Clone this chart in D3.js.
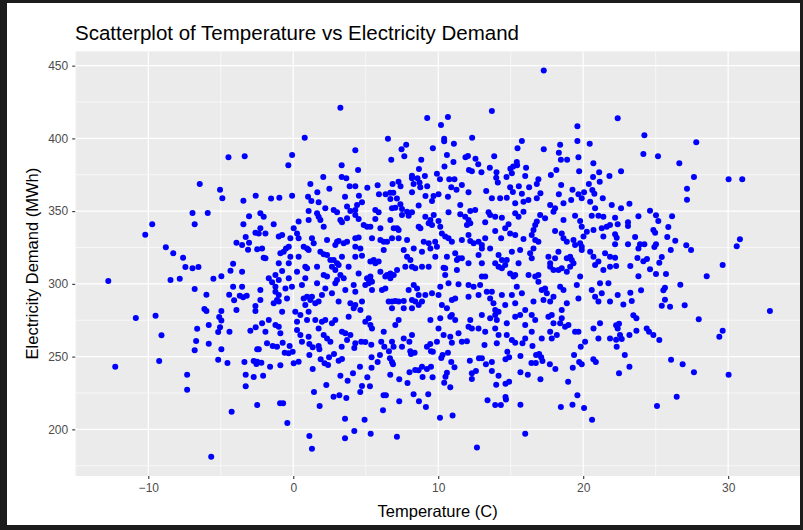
<!DOCTYPE html>
<html><head><meta charset="utf-8">
<script src="https://cdn.jsdelivr.net/npm/d3@7"></script>
<style>html,body{margin:0;padding:0;background:#1c1c1c;}svg{display:block;}</style>
</head><body>
<svg id="chart" width="803" height="530"></svg>
<script>
// Temperature (C), Electricity Demand (MWh) pairs
const coldSide = [[-4.47,387],[-3.35,387.7],[-6.45,368.7],[-5.05,364.7],[-4.89,358.8],[-3.44,357.2],[-2.59,360.6],
[-6.95,348.7],[-5.90,348.7],[-9.73,341],[-6.80,341],[-3.05,346.5],[-3.44,341],[-10.21,333.8],[-2.61,335.2],[-3.28,332.2],[-3.92,328.3],[-3.53,326.7],[-3.05,328.3],[-3.12,323.5],[-2.49,323.8],[-8.79,325.1],[-8.28,321],[-7.60,318],[-7.44,311.6],[-6.95,310.7],[-6.54,311.6],[-4.15,313.9],[-4.33,309],[-3.53,308.4],[-4.96,305.2],[-5.51,303.5],[-7.83,303.5],[-8.47,302.6],[-12.76,302],[-4.15,298],[-3.53,298],[-6.80,296.5],[-5.99,292.5],[-4.42,292.5],[-3.69,291.9],[-3.21,291.9],[-4.08,288.7],[-3.46,290.8],[-6.13,282.7],[-5.99,281.3],[-4.96,281.3],[-3.92,282],[-2.61,281.3],[-2.61,284.8],[-10.86,276.5],[-9.50,278.1],[-5.11,277.2],[-4.96,274.9],[-5.83,271.7],[-6.63,269.2],[-5.05,270.1],[-5.18,266.9],[-4.40,267.1],[-2.96,267.8],[-2.59,270.1],[-9.09,264.6],[-6.70,260.7],[-5.83,258.9],
[-6.80,254.3],[-4.96,255],[-2.49,255],[-12.28,243],[-9.25,247],[-5.18,247.9],[-4.54,245.6],[-3.37,246.3],[-2.73,247],[-2.54,244.9],[-7.32,237.5],[-3.28,237.5],[-2.73,236],[-7.32,227.2],[-3.28,229.6],[-2.49,216.7],[-4.25,212.1],[-5.66,181.2]];

const hotSide = [[22.38,413.8],[24.22,402.1],[27.80,397.3],[24.15,389.3],[25.16,387.7],[26.63,382.9],[22.61,377.4],[27.64,373.5],[30.03,371.9],[30.97,371.9],[27.16,365.4],[27.16,357.9],
[23.19,355.1],[22.61,352],[24.61,350.3],[25.02,347.1],[26.13,346.5],[23.81,346.5],[25.18,343.2],[22.20,345.5],[22.38,341],[23.09,342.3],[23.09,339.8],[25.87,339.1],[24.84,337],[24.96,335.2],[22.20,334.1],[22.31,331.7],[23.58,332.2],[25.80,332.2],[26.35,329.7],[30.81,330.6],[30.59,325.8],[22.20,327.2],[23.09,327.2],[23.92,327.2],[24.22,327.2],[25.02,327.2],[24.91,325.3],[23.81,324.4],[27.11,326.5],[27.44,323.3],[26.04,323.3],[25.42,318.5],[23.74,317.8],[24.40,317.1],[24.15,315.5],[25.25,314.6],[22.20,318],[22.27,312.3],[23.25,312.3],[29.62,313],[24.61,310],[25.02,306.8],[25.71,306.8],[23.81,305.2],[28.52,305.2],[26.70,299.4],[25.64,297.4],[25.53,295.6],[23.99,295.6],[23.25,293.9],[22.38,292.3],[25.64,289.1],[23.35,288.2],[22.77,285.9],[25.42,285],[25.99,284.3],[27.00,285.3],[32.88,281.3],[23.46,278.4],[23.67,276.3],[27.97,275.6],[22.47,272.6],[22.27,271.5],[22.38,269.4],[24.38,269.4],[24.54,267.1],[24.84,264.8],[23.67,267.8],[23.19,264.8],[22.54,264.8],[22.66,262.1],[22.27,261.6],[25.25,261.4],[29.62,267.8],[29.39,263.7],
[22.31,256.8],[22.87,251.1],[23.19,243],[22.47,238.5],[26.06,247.9],[26.86,244.7],[27.64,239.2],[30.03,237.5],[26.45,222.4],[25.09,216]];

const upperBand = [[3.25,421.1],[9.24,414],[0.79,400.5],[6.53,399.8],[7.79,395.7],[7.47,392.5],[9.63,393.2],[4.28,391.8],[-0.08,388.6],[-0.34,381.5],[6.76,385.4],[7.66,387.7],[8.83,385.4],[3.34,381.5],[4.47,378.3],[8.67,379],[2.07,373.5],[3.34,373.5],[3.66,372.6],[8.19,374.4],[8.19,372.6],[9.08,374.2],[9.91,375.7],[1.18,368.7],[8.57,372.6],[2.49,365.4],[3.89,367.1],[4.28,367.1],[5.11,366.1],[5.82,367.8],[6.85,368.7],[7.26,370.2],[7.40,367.1],[8.30,368.7],[8.71,369.6],[8.76,366.4],[9.24,367.1],[1.66,362.9],[-1.53,358.6],[-0.96,359.2],[-0.08,360.6],[1.02,359.9],[3.57,359.9],[4.53,360.6],[5.91,361.6],[6.37,361.6],[6.69,362.7],[6.90,362.7],[7.15,358.6],[8.19,363],[9.12,360.4],[9.68,360.4],
[17.28,446.6],[13.70,418.9],[10.67,414.7],[10.19,409.2],[19.60,408.3],[10.41,399.8],[10.41,398],[11.08,396.4],[12.34,400.5],[15.77,398.2],[15.47,393.2],[17.28,392.5],[18.41,395.7],[19.60,398.2],[20.45,396.4],[18.32,390.2],[18.46,385.4],[18.89,385.4],[19.67,387],[20.70,382.9],[10.60,388.6],[11.88,387],[12.05,387.9],[12.57,386],[12.76,382.2],[13.86,387.7],[11.05,383.8],[10.43,380.6],[15.42,383.8],[15.44,381.5],[15.17,380.6],[14.98,379.2],[16.06,379.9],[13.56,379.9],[12.12,378.3],[12.32,377.4],[12.98,376.7],[14.02,376.7],[15.08,376],[18.15,378.3],[19.72,377.4],[17.77,374.8],[16.00,374.2],[10.12,371.9],[10.76,371.9],[11.12,371.9],[14.00,373],[14.71,373.5],[14.11,369.6],[16.91,371.9],[16.80,368.7],[20.68,373.5],[21.10,376.7],[21.14,370.2],[21.81,374.2],[20.39,368.7],[10.90,366.4],[11.26,364.7],[11.63,368],[12.09,363],[13.31,363.9],[14.96,366.4],[15.15,363.2],[15.56,367.1],[15.77,362],[16.27,366.4],[17.05,362.3],[18.48,368],[19.26,364.7],[18.32,361.6],[19.67,361.6],[20.06,363],[20.63,364.5],[20.77,362],[10.02,361.6],[10.67,359.9],[13.70,358.8],[14.27,358.8],[14.73,359.2],[16.22,357.7],[19.17,357.7],[19.90,358.8],[21.35,358.8]];

const lowerBand = [[-2.38,255],[-1.42,257.3],[-1.12,256.8],[-1.81,259.1],[-0.73,259.5],[-0.25,257.3],[-0.59,252.7],[-0.32,252.3],[-0.04,253.4],[-2.49,246.5],[-2.20,245.8],[-1.60,243],[-0.89,244],[0.03,245.4],[0.37,246.5],[-2.08,236.9],[-0.91,217.9],[-0.70,217.9],[-0.41,204.3],[1.11,258.6],[1.34,256.4],[1.75,257.3],[1.11,251.1],[1.80,255],[1.89,248.1],[2.16,245.4],[2.40,244.2],[2.47,249.5],[2.81,251.8],[3.13,247.2],[3.36,248.3],[3.34,256.8],[1.34,241.5],[2.28,230.5],[1.43,225.6],[1.82,216],[1.11,195.4],[1.29,186.7],[2.78,222.4],[3.18,223.4],[3.66,221.5],[3.25,236.9],[3.75,233.4],[4.12,238.5],[3.57,207.3],[3.57,193.8],[4.21,198.8],[4.21,255.9],[4.60,243],[4.62,225.6],[4.74,229.8],[4.92,206.6],[5.11,235.8],[5.29,229.6],[5.34,197],[5.40,249.5],[5.40,242.4],[5.38,258.2],[4.69,260.2],[4.97,260],[5.82,246.3],[5.98,251.1],[6.23,223.4],[6.39,223.4],[6.19,213.1],[6.28,256.8],[6.07,260.2],[6.60,253.6],[6.67,248.8],[6.81,246.3],[6.88,244.7],[6.69,237.5],[6.92,256.8],[7.15,194.9],[7.31,234.4],[7.31,219.3],[7.88,231.8],[8.02,239.2],[8.30,224.1],[8.41,240.8],[8.64,240.6],[8.67,219.3],[8.88,243],[8.92,236],[9.15,215.3],[9.31,224.1],[9.22,241.5],[9.50,243],[9.61,235.8],[8.12,251.8],[8.37,252.7],[8.07,253.6],[9.22,256.8],[9.50,253.6],[9.63,253.4],[9.45,258.6],[7.50,256.8],
[10.12,208],[10.99,209.6],[12.67,187.6],[16.00,197],[13.40,220],[13.93,216.7],[14.32,216.7],[14.64,222.2],[14.67,220.6],[15.67,216.9],[18.46,215.3],[19.26,216.9],[19.60,223.4],[20.06,214.6],[20.61,206.6],[10.83,228.9],[10.41,232],[10.50,236.2],[10.60,238.9],[11.12,242.6],[10.90,246.3],[10.21,249],[10.30,251.1],[10.67,252.7],[12.18,247.2],[12.32,238.5],[12.32,234.6],[12.60,240.1],[12.81,248.8],[13.01,248.8],[13.29,244.7],[13.70,246.3],[13.70,240.1],[14.16,236.9],[14.00,230.7],[14.64,231.4],[14.89,232.7],[14.64,248.1],[14.89,249.5],[14.77,253.4],[15.67,250.4],[15.67,239.2],[16.18,237.5],[16.43,245.6],[16.73,245.6],[16.75,251.1],[16.96,251.8],[17.10,249.5],[17.19,247],[17.05,234.4],[17.70,244.7],[18.08,241.5],[18.96,232.7],[19.28,242.4],[19.37,251.1],[19.72,246.3],[19.90,244.7],[19.83,256.8],[20.70,248.1],[20.87,246.3],[10.94,259.5],[11.98,260.5],[13.19,258],[15.31,259.5],[15.81,259.1],[16.50,257.3]];

const coreLeft = [[1.25,357],[1.75,356.1],[4.74,356.1],[6.70,358.3],[7.39,354.7],[9.57,357],[5.66,350.8],[5.89,349.2],[6.81,351.9],[7.04,352.4],[7.50,351.5],[7.85,349.6],[8.19,349.2],[8.65,353.8],[2.21,351.9],[2.79,350.8],[3.02,349.2],[3.71,353.1],[3.94,350.1],[4.28,350.8],[4.40,354.2],[1.06,350.1],[1.64,348.5],[-2.27,348.5],[-2.04,346.2],
[0.37,342.8],[1.06,343.9],[1.75,346.2],[1.87,343.9],[3.25,343.9],[3.36,342.3],[3.71,345.1],[4.28,347.3],[4.51,344.6],[5.66,344.6],[6.70,343.9],[7.50,347.3],[7.96,346.9],[9.11,346.2],[9.46,343.9],[9.69,347.3],[-1.35,340.9],[-2.27,338.2],[0.03,338.2],[0.26,334.7],[2.10,339.3],[4.86,340.5],[5.09,339.3],[5.32,339.3],[6.01,338.2],[6.93,338.2],[7.16,338.2],[7.27,337],[8.65,339.3],[8.77,338.2],[9.34,341.6],[9.57,340.5],
[-1.00,332.5],[-0.77,333.6],[-0.20,331.3],[0.37,331.3],[1.29,331.3],[1.41,327.9],[0.72,325.6],[0.95,324.4],[2.33,330.2],[3.02,329],[3.13,329.5],[3.48,327.9],[3.71,329],[4.28,331.3],[4.51,331.8],[4.63,324.4],[4.28,325.6],[5.43,331.3],[6.01,330.2],[6.24,329],[6.47,329],[6.81,331.3],[7.27,331.3],[7.85,330.2],[9.00,329],[9.34,327.9],[-2.15,324.4],[-2.38,334.7],[-1.92,334.7],[-0.50,324.4],[-0.31,325.6],[2.90,326.7],
[-2.04,318],[-1.92,317.6],[-0.89,321],[-0.66,322.1],[-0.20,318.7],[0.37,318.7],[1.06,323.3],[1.87,322.1],[2.10,320.3],[2.33,319.8],[2.56,316.4],[3.36,318.7],[4.28,318.7],[4.74,319.4],[5.55,316.4],[6.24,323.3],[7.62,323.3],[7.85,318.7],[8.08,316.4],[8.31,324.4],[8.88,322.1],[9.46,324.4],[9.80,318.7],[-1.00,314.1],[-0.31,314.1],[2.79,316.4],[3.02,314.1],
[0.83,311.8],[0.95,310.7],[1.64,311.8],[2.10,306.1],[2.33,305],[2.67,311.8],[2.90,309.5],[3.13,313],[3.82,311.8],[4.51,307.2],[5.32,315.3],[5.66,314.1],[5.89,315.3],[6.01,308.4],[6.47,306.1],[6.70,307.2],[6.93,306.1],[7.16,309.5],[7.73,311.8],[8.19,311.8],[8.42,310.7],[8.88,311.8],[9.34,311.8],[-1.23,306.1],[-1.00,302.7],[-1.69,303.8],[-0.77,308.8],[-0.31,303.8],[0.26,308.4],[0.83,303.8],[3.02,302.7],[3.25,306.1],[3.48,303.8],[5.09,303.8],[5.32,302.7],[5.20,300.4],[5.32,305],[5.43,301.5],[6.35,305],[6.70,303.8],
[-2.27,295.8],[-1.46,301.1],[-1.23,298.1],[-0.54,296.9],[-0.09,298.1],[0.60,299.2],[1.64,300.4],[2.21,296.9],[2.90,300.4],[3.59,295.8],[4.17,299.2],[4.28,294.6],[4.97,299.2],[5.43,295.8],[6.12,295.8],[6.35,296.9],[7.96,295.8],[8.31,299.2],[8.54,296.9],[8.65,292.3],[9.11,292.3],[9.57,293.5],[-1.23,294.6],[-1.00,292.3],[-0.43,290],[0.72,290],[0.95,291.2],[1.29,291.2],[1.98,292.3],[2.67,293.5],
[-2.27,288.9],[-1.35,286.6],[-1.12,288.9],[-1.00,287.8],[0.83,285.5],[1.18,288.9],[1.52,286.6],[1.75,287.8],[3.13,287.8],[3.94,286.6],[4.28,285.5],[4.74,287.8],[4.17,283.2],[4.63,282],[6.58,287.8],[6.81,287.8],[7.04,288.2],[7.27,287.8],[7.62,288.2],[8.19,288.9],[8.42,287.8],[8.65,285.5],[6.81,283.2],[7.62,283.2],[8.19,283.2],[-0.77,280.9],[0.14,280.9],[0.49,278.6],[1.06,280.9],[8.88,287.8],
[-2.15,272.9],[-1.69,275.1],[-1.23,271.7],[-1.00,270.6],[0.26,274],[0.95,275.1],[1.52,275.1],[1.98,274],[2.21,275.1],[2.67,272.9],[2.90,275.1],[3.82,277.4],[4.97,274],[5.20,276.3],[7.27,275.1],[7.04,271.7],[9.46,275.1],[-1.92,267.1],[-0.89,266],[0.26,268.3],[0.49,264.8],[1.75,269.4],[2.10,264.8],[3.36,267.1],[3.59,266],[3.94,264.8],[5.32,271.7],[5.43,269.4],[6.24,267.1],[8.19,264.8],[0.60,260.2],[1.06,263.7],[2.33,262.5],[2.56,260.2],[3.71,261.4],[4.28,259.1],[6.81,260.2],[7.62,262.5],[8.01,260.2]];

const coreRight = [[15.31,355.4],[15.88,356.5],[16.80,358.8],[17.72,354.2],[18.06,351.9],[18.64,355.4],[20.48,356.5],[20.82,351.9],[21.97,354.2],[11.52,354.2],[10.71,349.2],[12.21,350.1],[12.55,350.8],[13.47,349.2],[10.02,343.2],
[11.52,347.8],[11.86,346.2],[12.09,343.9],[11.98,340.5],[12.21,341.6],[13.24,342.3],[13.58,347.3],[13.93,346.2],[14.39,345.5],[14.85,340.9],[15.31,348.5],[15.54,346.2],[15.88,349.6],[16.69,340.5],[16.80,342.8],[17.03,347.3],[17.37,345.1],[17.95,349.6],[18.64,343.9],[19.44,346.9],[19.79,343.2],[19.90,339.3],[20.59,346.9],[21.05,346.9],[21.39,346.2],[21.62,339.3],[21.85,340.5],[10.14,339.3],[10.25,334.7],[10.48,332.5],
[10.71,331.3],[10.94,329],[11.63,330.2],[12.09,333.6],[12.21,329.5],[12.44,327.9],[13.24,331.3],[13.93,336.3],[14.34,331.3],[14.62,338.2],[14.96,334.7],[15.31,333.6],[15.88,330.8],[16.45,333.6],[16.57,337],[16.69,330.2],[16.91,329],[18.06,336.3],[18.52,334.7],[18.64,331.3],[18.87,329],[19.33,330.2],[19.44,326.7],[19.79,327.9],[19.90,325.6],[20.02,332.5],[20.25,335.9],[20.71,337],[21.28,338.2],[21.39,332.5],[9.79,329],[13.01,326.7],[12.78,329],
[11.17,321],[11.29,316.4],[11.40,317.6],[11.63,317.6],[12.78,319.8],[13.01,324.4],[13.58,324.4],[14.16,319.8],[14.39,316.4],[14.73,316.4],[15.08,322.1],[15.65,323.3],[16.34,321],[16.45,317.6],[16.57,324.4],[17.60,318.7],[17.72,314.1],[18.06,317.6],[18.29,322.1],[18.87,317.6],[19.10,318.7],[19.21,316.4],[19.90,323.3],[20.48,322.1],[20.71,318.7],[21.05,315.3],[21.51,321],[21.85,318.7],[10.60,318.7],[9.91,325.6],
[10.37,311.1],[10.48,310.7],[11.29,309.5],[12.09,314.1],[13.01,314.1],[13.93,314.1],[14.16,311.8],[14.39,310.7],[14.62,313],[14.96,307.2],[15.19,305],[15.54,314.1],[15.31,306.1],[16.23,306.1],[16.69,305],[16.91,306.1],[17.72,311.8],[17.95,309.5],[18.29,309.5],[18.52,310.7],[18.87,308.4],[19.10,311.8],[19.33,314.1],[19.79,305],[20.82,313],[21.39,309.5],[21.85,311.8],[10.48,306.1],[13.01,305],[13.24,305],
[10.14,298.1],[10.71,300.4],[11.40,299.7],[12.09,299.2],[12.44,298.1],[12.89,299.2],[12.78,292.3],[13.35,294.6],[13.70,294.6],[13.58,290],[14.39,292.3],[15.08,292.3],[15.42,298.1],[15.77,293.5],[16.91,301.5],[17.14,295.8],[17.37,296.9],[17.49,293.5],[17.95,291.2],[18.41,298.1],[18.64,295.8],[19.56,299.2],[20.59,295.8],[21.16,300.4],[21.28,293.5],[21.74,300.4],[10.02,292.3],[10.94,288.9],[11.17,290],
[10.25,285.5],[10.60,283.2],[12.09,291.2],[13.81,286.6],[13.93,282],[14.16,280.9],[14.62,285.5],[15.31,286.6],[16.00,282],[16.57,287.8],[17.26,288.9],[17.72,287.8],[18.52,282],[18.87,286.6],[19.67,290],[20.82,291.2],[21.05,287.8],[21.85,287.8],[10.14,276.3],[10.94,278.6],[11.17,275.1],
[10.83,277.4],[12.09,270.6],[12.21,275.1],[13.01,278.6],[13.58,276.3],[13.93,278.6],[14.04,275.1],[14.73,272.9],[15.31,277.4],[15.65,278.6],[16.00,271.7],[16.45,278.6],[16.69,275.1],[17.60,277.4],[17.83,278.6],[17.95,272.9],[18.41,272.9],[18.52,276.3],[18.75,270.6],[17.72,267.1],[19.44,267.1],[19.67,267.1],[20.71,269.4],[21.16,272.9],[10.02,269.4],[10.37,264.8],[10.83,263.7],[11.40,266],[11.63,260.2],[12.32,269.4],[12.78,269.4],[13.24,267.1],[13.93,269.4],[14.16,264.8],[14.73,264.8],[15.08,261.4],[16.00,262.5],[16.45,267.1],[17.14,262.5],[17.83,262.5],[18.18,264.8],[18.98,271.7],[20.13,260.2],[21.05,262.5],[21.85,262.5],[9.91,260.2],[14.04,259.1]];

const xTicks = [-10, 0, 10, 20, 30];
const yTicks = [200, 250, 300, 350, 400, 450];
const titleText = "Scatterplot of Temperature vs Electricity Demand";
const xLabel = "Temperature (C)";
const yLabel = "Electricity Demand (MWh)";

const data = [].concat(coldSide, hotSide, upperBand, lowerBand, coreLeft, coreRight)
  .map(d => ({temperature: d[0], demand: d[1]}));

const svg = d3.select("#chart");
// outer frame
svg.append("rect").attr("x", 0).attr("y", 0).attr("width", 803).attr("height", 530).attr("fill", "#1c1c1c");
svg.append("rect").attr("x", 7).attr("y", 3).attr("width", 793).attr("height", 522).attr("fill", "#ffffff");

const panel = {left: 75.2, right: 803, top: 51.3, bottom: 476};

function expanded(ext) { const p = (ext[1] - ext[0]) * 0.05; return [ext[0] - p, ext[1] + p]; }
const x = d3.scaleLinear().domain(expanded(d3.extent(data, d => d.temperature))).range([panel.left, panel.right]);
const y = d3.scaleLinear().domain(expanded(d3.extent(data, d => d.demand))).range([panel.bottom, panel.top]);

const clipG = svg.append("g");
svg.append("clipPath").attr("id", "pclip").append("rect")
  .attr("x", panel.left).attr("y", panel.top).attr("width", 800 - panel.left).attr("height", panel.bottom - panel.top);
clipG.attr("clip-path", "url(#pclip)");

clipG.append("rect").attr("x", panel.left).attr("y", panel.top)
  .attr("width", panel.right - panel.left).attr("height", panel.bottom - panel.top).attr("fill", "#EBEBEB");

// minor grid
const xMinor = d3.range(-15, 40, 10);
const yMinor = d3.range(175, 475, 50);
clipG.selectAll(".xminor").data(xMinor).join("line")
  .attr("x1", d => x(d)).attr("x2", d => x(d)).attr("y1", panel.top).attr("y2", panel.bottom)
  .attr("stroke", "#ffffff").attr("stroke-width", 0.6);
clipG.selectAll(".yminor").data(yMinor).join("line")
  .attr("y1", d => y(d)).attr("y2", d => y(d)).attr("x1", panel.left).attr("x2", panel.right)
  .attr("stroke", "#ffffff").attr("stroke-width", 0.6);
// major grid
clipG.selectAll(".xmajor").data(xTicks).join("line")
  .attr("x1", d => x(d)).attr("x2", d => x(d)).attr("y1", panel.top).attr("y2", panel.bottom)
  .attr("stroke", "#ffffff").attr("stroke-width", 1.2);
clipG.selectAll(".ymajor").data(yTicks).join("line")
  .attr("y1", d => y(d)).attr("y2", d => y(d)).attr("x1", panel.left).attr("x2", panel.right)
  .attr("stroke", "#ffffff").attr("stroke-width", 1.2);

clipG.selectAll("circle").data(data).join("circle")
  .attr("cx", d => x(d.temperature)).attr("cy", d => y(d.demand)).attr("r", 3)
  .attr("fill", "#0000FF");

const font = "'Liberation Sans', Arial, sans-serif";
const xAxis = svg.append("g").attr("transform", `translate(0,${panel.bottom})`)
  .call(d3.axisBottom(x).tickValues(xTicks).tickSize(3).tickPadding(4));
const yAxis = svg.append("g").attr("transform", `translate(${panel.left},0)`)
  .call(d3.axisLeft(y).tickValues(yTicks).tickSize(3).tickPadding(4));
[xAxis, yAxis].forEach(a => {
  a.select(".domain").remove();
  a.selectAll(".tick line").attr("stroke", "#333333").attr("stroke-width", 1.1);
  a.selectAll(".tick text").attr("fill", "#4D4D4D").style("font-family", font).style("font-size", "12px");
});

svg.append("text").attr("x", 75).attr("y", 40).text(titleText)
  .style("font-family", font).style("font-size", "20.5px").attr("fill", "#000");
svg.append("text").attr("x", (panel.left + 800) / 2).attr("y", 517).attr("text-anchor", "middle").text(xLabel)
  .style("font-family", font).style("font-size", "16.5px").attr("fill", "#000");
svg.append("text").attr("transform", `translate(38,${(panel.top + panel.bottom) / 2}) rotate(-90)`)
  .attr("text-anchor", "middle").text(yLabel)
  .style("font-family", font).style("font-size", "16.5px").attr("fill", "#000");
</script>
</body></html>
